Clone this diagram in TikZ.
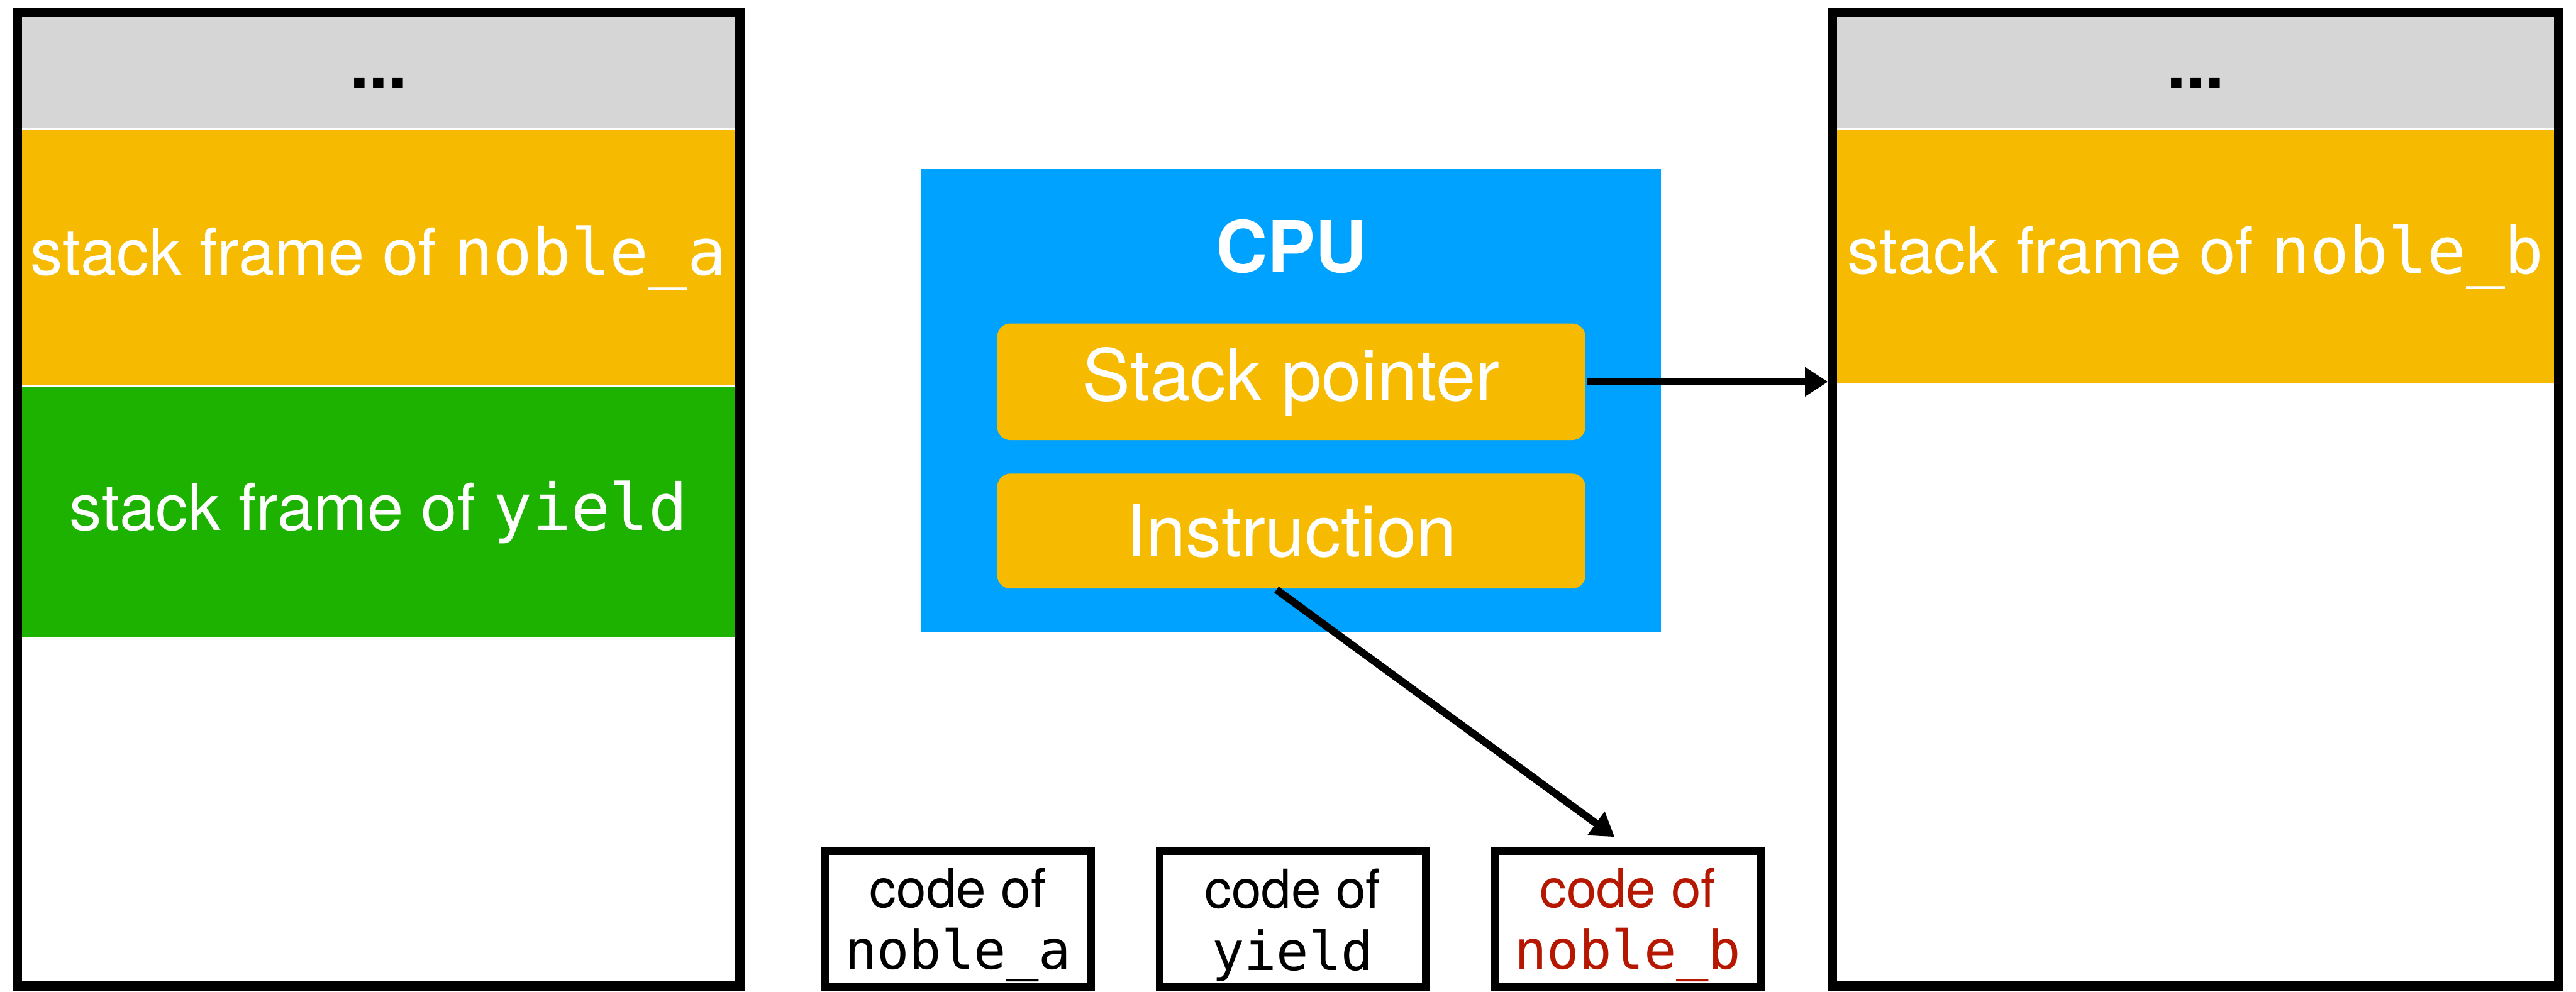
\documentclass[tikz,border=0pt]{standalone}
\usepackage{fontspec}
\setmainfont{TeX Gyre Heros}
\setmonofont{DejaVu Sans Mono}
\usetikzlibrary{arrows.meta,positioning}

\definecolor{framegray}{RGB}{214,214,214}
\definecolor{frameorange}{RGB}{246,187,0}
\definecolor{framegreen}{RGB}{29,177,0}
\definecolor{cpublue}{RGB}{0,162,255}
\definecolor{codered}{RGB}{181,23,0}

\begin{document}
\begin{tikzpicture}
\tikzstyle{every node}+=[inner sep=0pt]
\tikzstyle{band}=[rectangle, minimum width=4.45cm, text=white, font=\fontsize{11.2}{13}\selectfont]
\tikzstyle{dots}=[text=black, text height=8.5pt, text depth=1.5pt, font=\fontsize{12}{14}\selectfont\bfseries]
\tikzstyle{stackbox}=[draw, line width=1.6pt, minimum width=4.40cm, minimum height=5.93cm]
\tikzstyle{register}=[rectangle, rounded corners=0.08cm, fill=frameorange, minimum width=3.58cm, text=white, font=\fontsize{12.4}{14}\selectfont]
\tikzstyle{codebox}=[draw, line width=1.4pt, minimum width=1.62cm, minimum height=0.83cm, align=center, font=\fontsize{9.3}{10.7}\selectfont]
\tikzstyle{jump}=[line width=1.3pt, -{Triangle[length=0.14cm, width=0.17cm]}]
\useasboundingbox (0,0) rectangle (15.68,-6.04);

% left stack: noble_a has called yield
\node [band, fill=framegray, minimum height=0.73cm, dots] (lgray) at (2.305,-0.415) {...};
\node [band, fill=frameorange, minimum height=1.55cm, below=0pt of lgray] (lnoble) {stack frame of \texttt{noble\_a}};
\node [band, fill=framegreen, minimum height=1.52cm, below=0pt of lnoble] (lyield) {stack frame of \texttt{yield}};
\node [stackbox] (lstack) at (2.305,-3.04) {};

% right stack: noble_b
\node [band, fill=framegray, minimum height=0.73cm, minimum width=4.47cm, dots] (rgray) at (13.365,-0.415) {...};
\node [band, fill=frameorange, minimum height=1.54cm, minimum width=4.47cm, below=0pt of rgray] (rnoble) {stack frame of \texttt{noble\_b}};
\node [stackbox, minimum width=4.42cm] (rstack) at (13.365,-3.04) {};

% cpu with its two registers
\node [fill=cpublue, minimum width=4.50cm, minimum height=2.82cm] (cpu) at (7.86,-2.44) {};
\node [text=white, font=\fontsize{12.4}{14}\selectfont\bfseries] (cpulabel) at (7.86,-1.50) {CPU};
\node [register, minimum height=0.71cm] (sp) at (7.86,-2.325) {Stack pointer};
\node [register, minimum height=0.70cm, below=0.19cm of sp] (instr) {Instruction};

% code segments
\node [codebox] (codea) at (5.83,-5.595) {\rule{0pt}{9pt}code of\\\texttt{noble\_a}};
\node [codebox, right=0.37cm of codea] (codey) {\rule{0pt}{9pt}code of\\\texttt{yield}};
\node [codebox, right=0.37cm of codey, text=codered] (codeb) {\rule{0pt}{9pt}code of\\\texttt{noble\_b}};

\draw [jump] (sp.east) -- (sp.east -| rstack.west);
\draw [jump, shorten >=0.1cm] ([xshift=-0.09cm]instr.south) -- (codeb.north);
\end{tikzpicture}
\end{document}
